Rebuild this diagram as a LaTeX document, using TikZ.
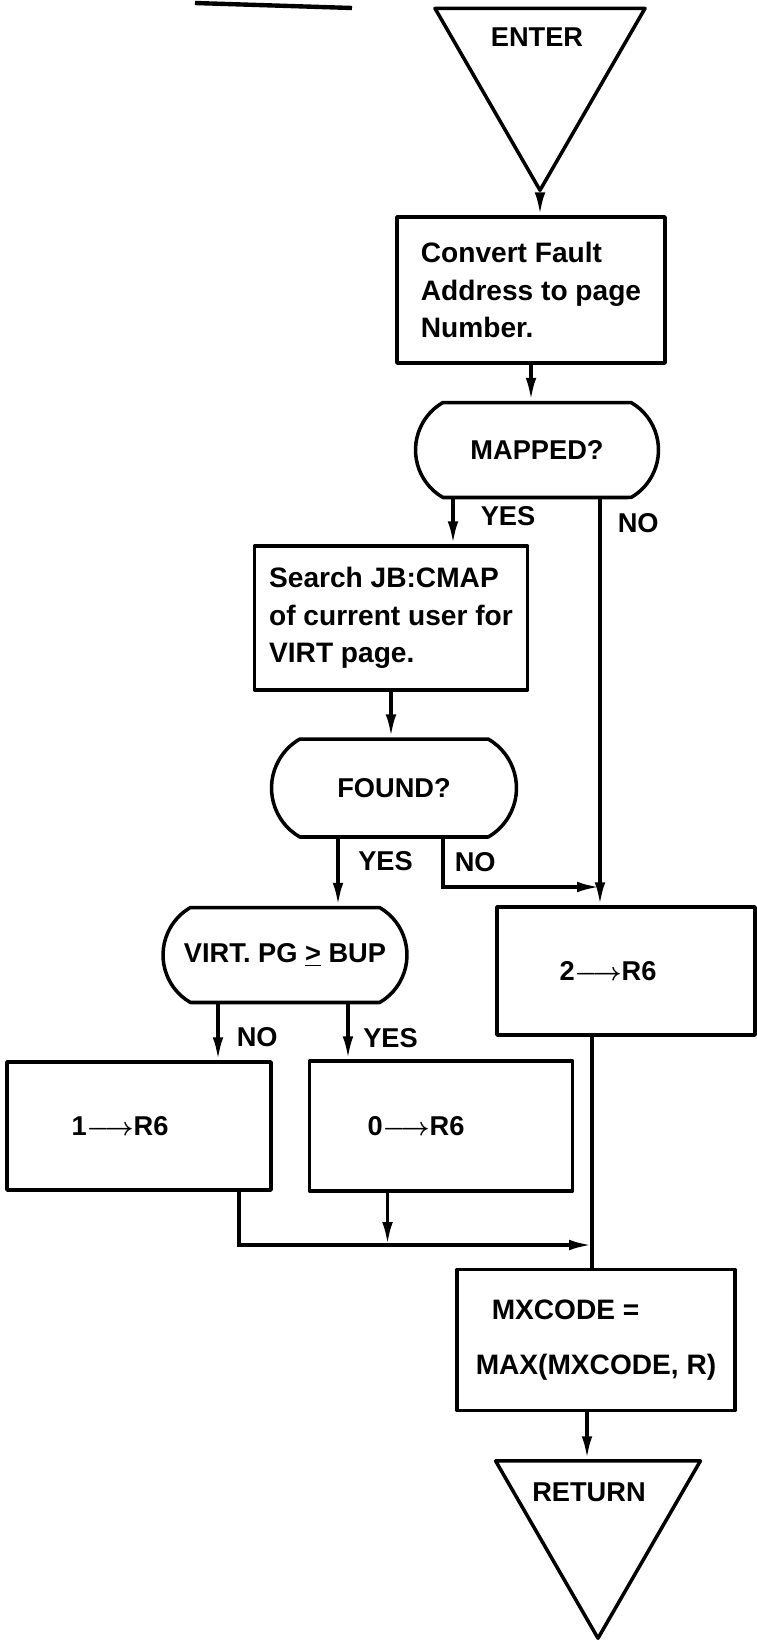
\documentclass[tikz,border=0pt]{standalone}
\usepackage{fontspec}
\setmainfont{Liberation Sans}
\usetikzlibrary{shapes.geometric,shapes.misc,arrows.meta}

\tikzset{
  base/.style={draw, line width=2pt, line join=round, font=\fontsize{15.5}{21}\selectfont\bfseries\boldmath},
  procbox/.style={base, rectangle, inner sep=0pt},
  testbox/.style={base, rounded rectangle, rounded rectangle arc length=120, inner sep=0pt},
  terminal/.style={base, regular polygon, regular polygon sides=3, shape border rotate=180, inner sep=0pt},
  boxtext/.style={font=\fontsize{16}{21.5}\selectfont\bfseries, align=left},
  branch/.style={font=\fontsize{15.5}{21}\selectfont\bfseries, inner sep=2pt},
  flow/.style={line width=2pt, -{Latex[length=13pt,width=6pt]}},
  link/.style={line width=2pt},
}

\begin{document}
\begin{tikzpicture}[x=0.02cm, y=-0.02cm]
  \useasboundingbox (0,0) rectangle (757,1643);
  % cut-off heading rule
  \draw[line width=2.5pt] (195,3) -- (352,8);
  % terminals
  \node[terminal, minimum size=4.85cm] (enter) at (540,69) {};
  \node[branch] (entertxt) at (537,37) {ENTER};
  \node[terminal, minimum size=4.73cm] (exit) at (598,1520) {};
  \node[branch] (exittxt) at (589,1492) {RETURN};
  % steps and tests
  \node[procbox, boxtext, minimum width=5.36cm, minimum height=2.92cm] (convert) at (531,290)
       {Convert Fault\\Address to page\\Number.};
  \node[testbox, minimum width=4.86cm, minimum height=1.9cm] (mapped) at (537,450) {MAPPED?};
  \node[procbox, boxtext, minimum width=5.46cm, minimum height=2.88cm] (search) at (391,618)
       {Search JB:CMAP\\of current user for\\VIRT page.};
  \node[testbox, minimum width=4.9cm, minimum height=1.96cm] (found) at (394,788) {FOUND?};
  \node[testbox, minimum width=4.88cm, minimum height=1.9cm] (virt) at (285,955)
       {VIRT. PG \underline{>} BUP};
  \node[procbox, minimum width=5.16cm, minimum height=2.56cm] (rsixtwo) at (626,971)
       {2$\longrightarrow$R6\hspace*{0.72cm}};
  \node[procbox, minimum width=5.28cm, minimum height=2.56cm] (rsixone) at (139,1126)
       {1$\longrightarrow$R6\hspace*{0.76cm}};
  \node[procbox, minimum width=5.26cm, minimum height=2.6cm] (rsixzero) at (441,1126)
       {0$\longrightarrow$R6\hspace*{1cm}};
  \node[procbox, boxtext, minimum width=5.56cm, minimum height=2.82cm] (mxcode) at (596,1340)
       {\hspace*{0.32cm}MXCODE =\\[9.5pt]MAX(MXCODE, R)};
  % branch points
  \coordinate (mapyesout) at ([xshift=-1.68cm]mapped.south);
  \coordinate (mapnoout) at ([xshift=1.26cm]mapped.south);
  \coordinate (foundyesout) at ([xshift=-1.12cm]found.south);
  \coordinate (foundnoout) at ([xshift=0.98cm]found.south);
  \coordinate (virtnoout) at ([xshift=-1.34cm]virt.south);
  \coordinate (virtyesout) at ([xshift=1.26cm]virt.south);
  \coordinate (oneout) at ([xshift=2cm]rsixone.south);
  \coordinate (zeroout) at ([xshift=-1.07cm]rsixzero.south);
  \coordinate (twoout) at ([xshift=-0.68cm]rsixtwo.south);
  \coordinate (mxout) at ([xshift=-0.18cm]mxcode.south);
  \coordinate (nojoin) at (600,887);
  \coordinate (mergejoin) at (592,1245);
  % connectors
  \draw[flow] (enter.south) -- (enter.south |- convert.north);
  \draw[flow] (convert.south) -- (convert.south |- mapped.north);
  \draw[flow] (mapyesout) -- node[branch, pos=0.38, right=0.45cm] (mapyes) {YES} (mapyesout |- search.north);
  \draw[flow] (mapnoout) -- node[branch, pos=0.06, right=0.25cm] (mapno) {NO} (mapnoout |- rsixtwo.north);
  \draw[flow] (search.south) -- (search.south |- found.north);
  \draw[flow] (foundyesout) -- node[branch, pos=0.34, right=0.3cm] (foundyes) {YES} (foundyesout |- virt.north);
  \draw[flow] (foundnoout) -- node[branch, pos=0.48, right=0.13cm] (foundno) {NO} (foundnoout |- nojoin) -- (nojoin);
  \draw[flow] (virtnoout) -- node[branch, pos=0.59, right=0.27cm] (virtno) {NO} (virtnoout |- rsixone.north);
  \draw[flow] (virtyesout) -- node[branch, pos=0.61, right=0.2cm] (virtyes) {YES} (virtyesout |- rsixzero.north);
  \draw[flow] (oneout) |- (mergejoin);
  \draw[flow] (zeroout) -- (zeroout |- mergejoin);
  \draw[link] (twoout) -- (twoout |- mxcode.north);
  \draw[flow] (mxout) -- (mxout |- exit.north);
\end{tikzpicture}
\end{document}
